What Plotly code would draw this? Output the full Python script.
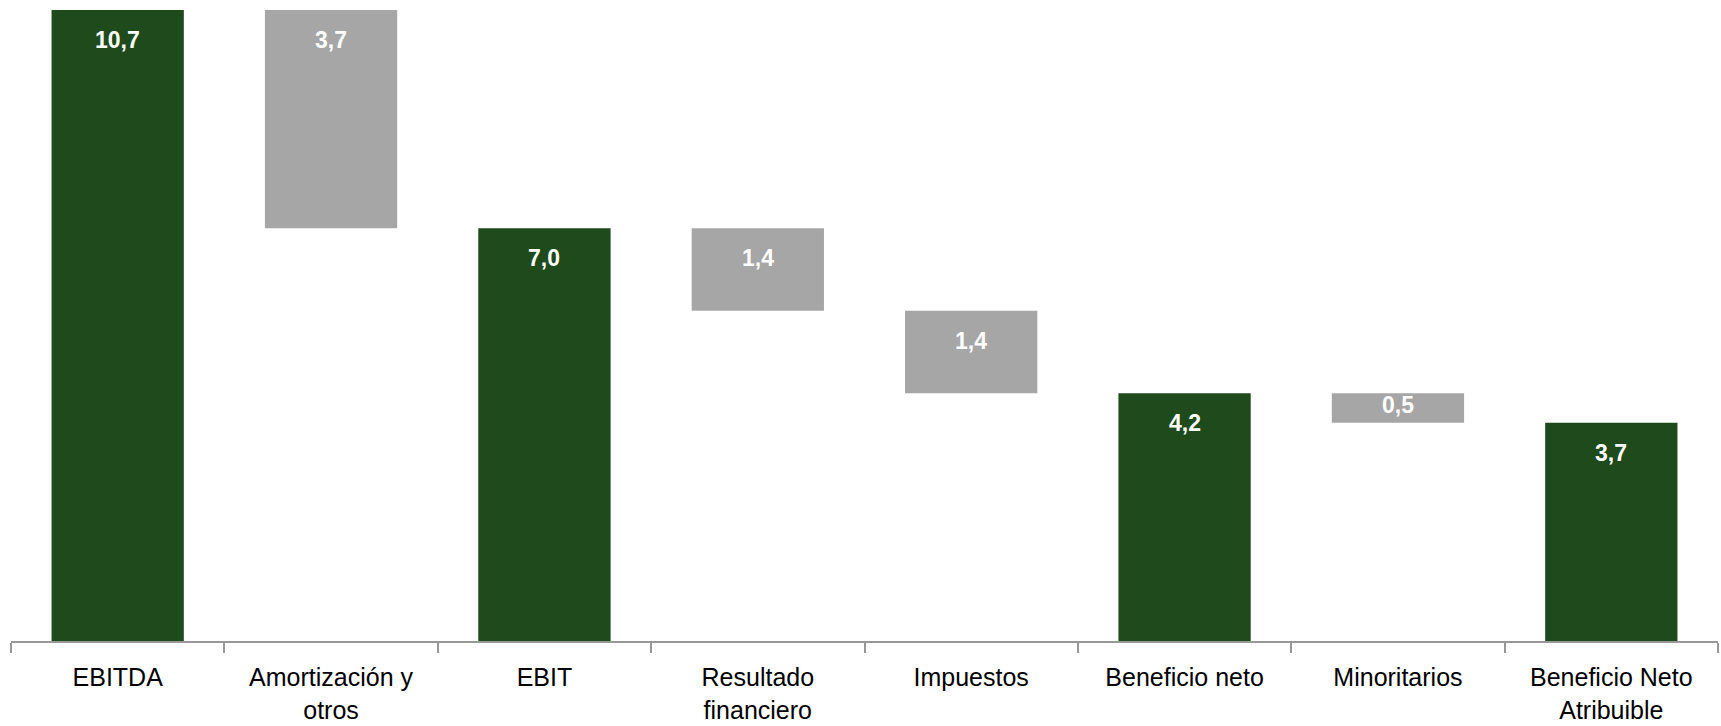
import plotly.graph_objects as go

# data
categories = ["EBITDA", "Amortización y<br>otros", "EBIT", "Resultado<br>financiero",
              "Impuestos", "Beneficio neto", "Minoritarios", "Beneficio Neto<br>Atribuible"]
values = [10.7, 3.7, 7.0, 1.4, 1.4, 4.2, 0.5, 3.7]
labels = ["10,7", "3,7", "7,0", "1,4", "1,4", "4,2", "0,5", "3,7"]
kinds = ["total", "down", "total", "down", "down", "total", "down", "total"]

GREEN = "#1f4a1b"
GREY = "#a6a6a6"
FONT = "Liberation Sans, Arial, sans-serif"

W, H = 1721, 726
M_TOP, M_BOT, M_L, M_R = 10, 85, 11, 3
Y_MAX = 10.7

# floating bases for the waterfall
bases = []
level = 0
for v, k in zip(values, kinds):
    if k == "total":
        bases.append(0)
        level = v
    else:
        level = level - v
        bases.append(level)

colors = [GREEN if k == "total" else GREY for k in kinds]

fig = go.Figure()
fig.add_trace(go.Bar(x=categories,
                     y=values,
                     base=bases,
                     width=0.62,
                     marker=dict(color=colors, line=dict(width=0)),
                     hoverinfo="skip"))

# value labels near the top inside each bar
px_per_unit = (H - M_TOP - M_BOT) / Y_MAX
for cat, v, b, lab in zip(categories, values, bases, labels):
    half = v * px_per_unit / 2
    shift = min(30, half - 3)
    fig.add_annotation(x=cat, y=b + v, text=lab, showarrow=False,
                       yanchor="middle", yshift=-shift,
                       font=dict(family=FONT, size=23, color="white", weight="bold"))

fig.update_layout(width=W, height=H,
                  margin=dict(l=M_L, r=M_R, t=M_TOP, b=M_BOT),
                  plot_bgcolor="white",
                  paper_bgcolor="white",
                  showlegend=False,
                  xaxis=dict(type="category", automargin=False,
                             showline=True, linecolor="#989898", linewidth=2,
                             ticks="outside", tickson="boundaries",
                             ticklen=10, tickwidth=2, tickcolor="#989898",
                             ticklabelstandoff=13,
                             showgrid=False, zeroline=False,
                             tickfont=dict(family=FONT, size=25, color="black")),
                  yaxis=dict(range=[0, Y_MAX], visible=False, showgrid=False,
                             zeroline=False, automargin=False))

# drop the default page margin so the figure sits at the window corner
fig.write_html("out.html", config={"displayModeBar": False},
               post_script="document.body.style.margin='0';")
